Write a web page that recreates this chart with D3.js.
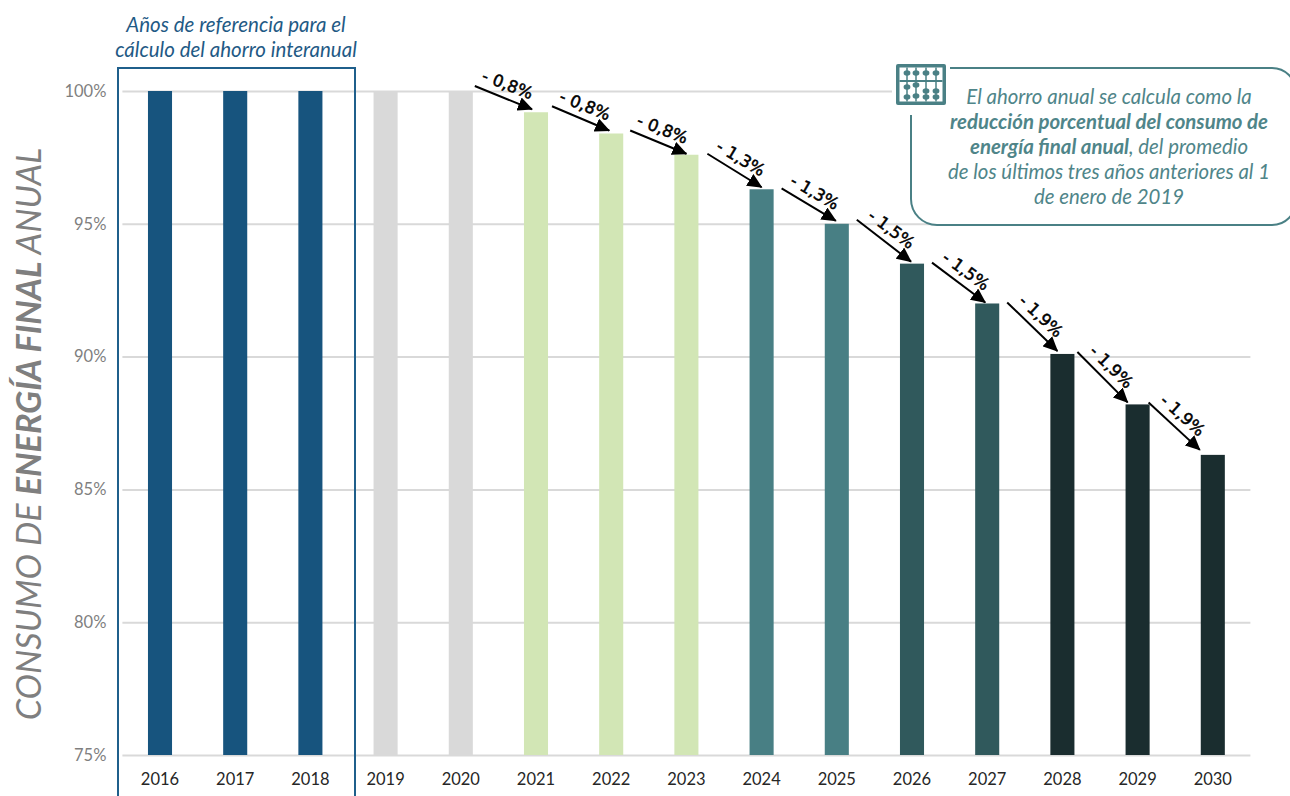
<!DOCTYPE html>
<html>
<head>
<meta charset="utf-8">
<script src="https://cdn.jsdelivr.net/npm/d3@7"></script>
<style>
    html, body { margin: 0; padding: 0; background: #fff; overflow: hidden; }
    svg { display: block; }
    text { font-family: Lato, "Open Sans", sans-serif; }
</style>
</head>
<body>
<div id="demo"></div>
<script>
// chart values
const years = ["2016", "2017", "2018", "2019", "2020", "2021", "2022", "2023", "2024", "2025", "2026", "2027", "2028", "2029", "2030"];
const consumption = [100, 100, 100, 100, 100, 99.2, 98.4, 97.6, 96.3, 95, 93.5, 92, 90.1, 88.2, 86.3];
const yTicks = [75, 80, 85, 90, 95, 100];
const savingYears = ["2021", "2022", "2023", "2024", "2025", "2026", "2027", "2028", "2029", "2030"];
const savingLabels = ["- 0,8%", "- 0,8%", "- 0,8%", "- 1,3%", "- 1,3%", "- 1,5%", "- 1,5%", "- 1,9%", "- 1,9%", "- 1,9%"];
const boxTitle = ["Años de referencia para el", "cálculo del ahorro interanual"];

const w = 1290, h = 796;
const svg = d3.select("#demo").append("svg").attr("width", w).attr("height", h);

// scales
const x = d3.scaleBand().domain(years).range([122.4, 1250.4]).paddingInner(0.68).paddingOuter(0.34);
const y = d3.scaleLinear().domain([75, 100]).range([755, 91]);
const color = d3.scaleThreshold()
    .domain([2019, 2021, 2024, 2026, 2028])
    .range(["#17547e", "#d9d9d9", "#d2e6b5", "#487f84", "#30595c", "#1a2d2f"]);

// gridlines + y labels
const yAxis = svg.append("g")
    .attr("transform", "translate(122.4,0)")
    .call(d3.axisLeft(y).tickValues(yTicks).tickFormat(d => d + "%").tickSize(-1128).tickPadding(16));
yAxis.select(".domain").remove();
yAxis.selectAll("line").attr("stroke", "#d9d9d9").attr("stroke-width", 2);
yAxis.selectAll("text").attr("fill", "#7f7f7f").style("font-size", "16.5px").style("font-family", "Lato");

// x labels
const xAxis = svg.append("g")
    .attr("transform", "translate(0,755)")
    .call(d3.axisBottom(x).tickSize(0).tickPadding(18));
xAxis.select(".domain").remove();
xAxis.selectAll("text").attr("fill", "#262626").style("font-size", "16.5px").style("font-family", "Lato");

// bars
svg.append("g").selectAll("rect")
    .data(years)
    .join("rect")
    .attr("x", d => x(d))
    .attr("y", (d, i) => y(consumption[i]))
    .attr("width", x.bandwidth())
    .attr("height", (d, i) => y(75) - y(consumption[i]))
    .attr("fill", d => color(+d));

// reference years box, runs off the bottom of the page
svg.append("rect")
    .attr("x", 118).attr("y", 68)
    .attr("width", 237).attr("height", 760)
    .attr("fill", "none").attr("stroke", "#1f5f8b").attr("stroke-width", 2);

svg.append("text")
    .attr("text-anchor", "middle")
    .attr("fill", "#1f5a85")
    .style("font-style", "italic")
    .style("font-size", "20.5px")
    .selectAll("tspan")
    .data(boxTitle)
    .join("tspan")
    .attr("x", 236)
    .attr("y", (d, i) => 32 + i * 25)
    .text(d => d);

// y title
const yTitle = svg.append("text")
    .attr("transform", "translate(41,434) rotate(-90)")
    .attr("text-anchor", "middle")
    .attr("fill", "#7f7f7f")
    .style("font-style", "italic")
    .style("font-size", "34.2px");
yTitle.append("tspan").text("CONSUMO DE ");
yTitle.append("tspan").style("font-weight", 700).text("ENERGÍA FINAL");
yTitle.append("tspan").text(" ANUAL");

// saving arrows, hand placed against the bars: [start dx, start dy, end dx, end dy]
const arrowNudge = [
    [14, -5, -4, -3], [16, -6, -2, -3], [19, -3, 0, -1], [21, -1, 0, -2], [20, -1, -1, -3],
    [20, -4, -1, -2], [20, -1, -2, -1], [20, -1, -5, -3], [15, -2, -10, -2], [11, -2, -13, -5]
];
svg.append("defs").append("marker")
    .attr("id", "head")
    .attr("markerUnits", "userSpaceOnUse")
    .attr("viewBox", "0 0 15 14")
    .attr("markerWidth", 15).attr("markerHeight", 14)
    .attr("refX", 14).attr("refY", 7)
    .attr("orient", "auto")
    .append("path")
    .attr("d", "M0,0 L15,7 L0,14 Z")
    .attr("fill", "#000");

const cx = d => x(d) + x.bandwidth() / 2;
const arrows = savingYears.map((yr, i) => {
    const k = years.indexOf(yr);
    const n = arrowNudge[i];
    const x1 = cx(years[k - 1]) + n[0], y1 = y(consumption[k - 1]) + n[1];
    const x2 = cx(yr) + n[2], y2 = y(consumption[k]) + n[3];
    return { x1, y1, x2, y2, label: savingLabels[i], angle: Math.atan2(y2 - y1, x2 - x1) };
});

svg.append("g").selectAll("line")
    .data(arrows)
    .join("line")
    .attr("x1", d => d.x1).attr("y1", d => d.y1)
    .attr("x2", d => d.x2).attr("y2", d => d.y2)
    .attr("stroke", "#000").attr("stroke-width", 2)
    .attr("marker-end", "url(#head)");

svg.append("g").selectAll("text")
    .data(arrows)
    .join("text")
    .attr("transform", d => {
        const mx = (d.x1 + d.x2) / 2 + Math.sin(d.angle) * 8;
        const my = (d.y1 + d.y2) / 2 - Math.cos(d.angle) * 8;
        return "translate(" + mx + "," + my + ") rotate(" + (d.angle * 180 / Math.PI - 1) + ")";
    })
    .attr("text-anchor", "middle")
    .attr("dx", -1)
    .attr("fill", "#000")
    .style("font-family", "'DejaVu Sans'")
    .style("font-size", "16.5px")
    .attr("stroke", "#000").attr("stroke-width", 0.5)
    .text(d => d.label);

// callout, right side runs past the page edge
const callout = svg.append("g");
callout.append("path")
    .attr("d", "M911,100 V68 H1272 A24,24 0 0 1 1296,92 V201 A24,24 0 0 1 1272,225 H937 A26,26 0 0 1 911,199 Z")
    .attr("fill", "#fff")
    .attr("stroke", "#4a8085").attr("stroke-width", 2);
callout.append("rect")
    .attr("x", 892).attr("y", 60).attr("width", 58).attr("height", 55)
    .attr("fill", "#fff");

const noteLines = [
    [["El ahorro anual se calcula como la", 400]],
    [["reducción porcentual del consumo de", 700]],
    [["energía final anual", 700], [", del promedio", 400]],
    [["de los últimos tres años anteriores al 1", 400]],
    [["de enero de 2019", 400]]
];
const note = callout.append("text")
    .attr("text-anchor", "middle")
    .attr("fill", "#4f8589")
    .style("font-style", "italic")
    .style("font-size", "20.4px");
noteLines.forEach((line, i) => {
    line.forEach((part, j) => {
        const t = note.append("tspan").style("font-weight", part[1]).text(part[0]);
        if (j === 0) t.attr("x", 1109).attr("y", 104 + i * 25);
    });
});

// abacus icon
const icon = callout.append("g");
icon.append("rect")
    .attr("x", 896).attr("y", 64).attr("width", 50).attr("height", 41).attr("rx", 2)
    .attr("fill", "#4a8085");
icon.append("rect")
    .attr("x", 899.5).attr("y", 67.5).attr("width", 43).attr("height", 34)
    .attr("fill", "#fff");
icon.append("rect")
    .attr("x", 899.5).attr("y", 80).attr("width", 43).attr("height", 2)
    .attr("fill", "#4a8085");
const rods = [907, 916, 926, 936];
const beadRows = [[73, 73, 73, 73], [87, 85, 91, 91], [97, 96, 97, 97]];
icon.selectAll("line")
    .data(rods)
    .join("line")
    .attr("x1", d => d).attr("x2", d => d)
    .attr("y1", 67.5).attr("y2", 101.5)
    .attr("stroke", "#4a8085").attr("stroke-width", 1.5);
beadRows.forEach(row => {
    icon.append("g").selectAll("ellipse")
        .data(row)
        .join("ellipse")
        .attr("cx", (d, i) => rods[i])
        .attr("cy", d => d)
        .attr("rx", 3.4).attr("ry", 2.8)
        .attr("fill", "#4a8085");
});
</script>
</body>
</html>
